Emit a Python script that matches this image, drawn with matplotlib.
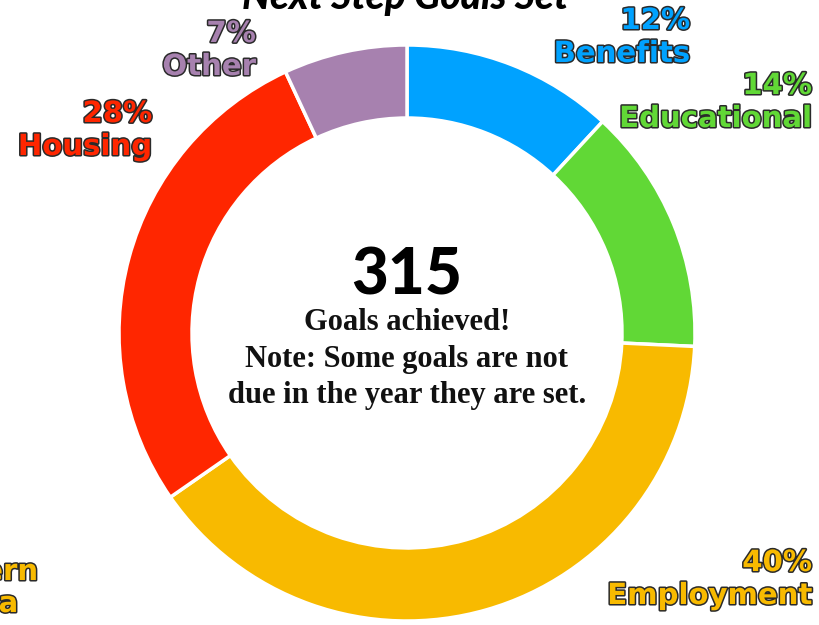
import matplotlib.pyplot as plt
import matplotlib.patheffects as pe

categories = ['Benefits', 'Educational', 'Employment', 'Housing', 'Other']
percents = [12, 14, 40, 28, 7]
colors = ['#00A2FF', '#61D836', '#F8BA00', '#FF2600', '#A781AF']
total_goals = 315

LABEL_FONT = ['DejaVu Sans']
TITLE_FONT = ['Lato', 'DejaVu Sans']
SERIF_FONT = ['Liberation Serif', 'DejaVu Serif']
OUTLINE = [pe.withStroke(linewidth=2.2, foreground='#2a2a2a')]


def draw_label(ax, x, y, pct, name, color, size=21):
    ax.text(x, y, f'{pct}%', ha='right', va='center', color=color,
            fontsize=size, fontweight='bold', family=LABEL_FONT,
            path_effects=OUTLINE)
    ax.text(x, y - 33, name, ha='right', va='center', color=color,
            fontsize=size, fontweight='bold', family=LABEL_FONT,
            path_effects=OUTLINE)


fig = plt.figure(figsize=(8.2, 6.25), dpi=100)
ax = fig.add_axes([0, 0, 1, 1])

ax.pie(percents, colors=colors, startangle=90, counterclock=False,
       center=(407, 292), radius=288,
       wedgeprops=dict(width=73, edgecolor='white', linewidth=2.5))
ax.set_xlim(0, 820)
ax.set_ylim(0, 625)
ax.set_aspect('auto')
ax.axis('off')

# title, partly cut off at the top
ax.text(405, 627, 'Next Step Goals Set', ha='center', va='center',
        fontsize=28, fontweight='black', style='italic', family=TITLE_FONT)

# slice labels
draw_label(ax, 690, 604, percents[0], categories[0], colors[0])
draw_label(ax, 812, 539, percents[1], categories[1], colors[1])
draw_label(ax, 812, 62, percents[2], categories[2], colors[2])
draw_label(ax, 152, 511, percents[3], categories[3], colors[3])
draw_label(ax, 256, 591, percents[4], categories[4], colors[4])

# cut-off label at bottom left
ax.text(38, 53, 'Western', ha='right', va='center', color=colors[2],
        fontsize=21, fontweight='bold', family=LABEL_FONT,
        path_effects=OUTLINE)
ax.text(18, 21, 'Canada', ha='right', va='center', color=colors[2],
        fontsize=21, fontweight='bold', family=LABEL_FONT,
        path_effects=OUTLINE)

# center text
ax.text(407, 349, str(total_goals), ha='center', va='center',
        fontsize=46, fontweight='black', family=TITLE_FONT, color='black')
ax.text(407, 302, 'Goals achieved!', ha='center', va='center',
        fontsize=22, fontweight='bold', family=SERIF_FONT, color='#111111')
ax.text(407, 266, 'Note: Some goals are not', ha='center', va='center',
        fontsize=22, fontweight='bold', family=SERIF_FONT, color='#111111')
ax.text(407, 229, 'due in the year they are set.', ha='center', va='center',
        fontsize=22, fontweight='bold', family=SERIF_FONT, color='#111111')

fig.savefig('out.png', dpi=100)
